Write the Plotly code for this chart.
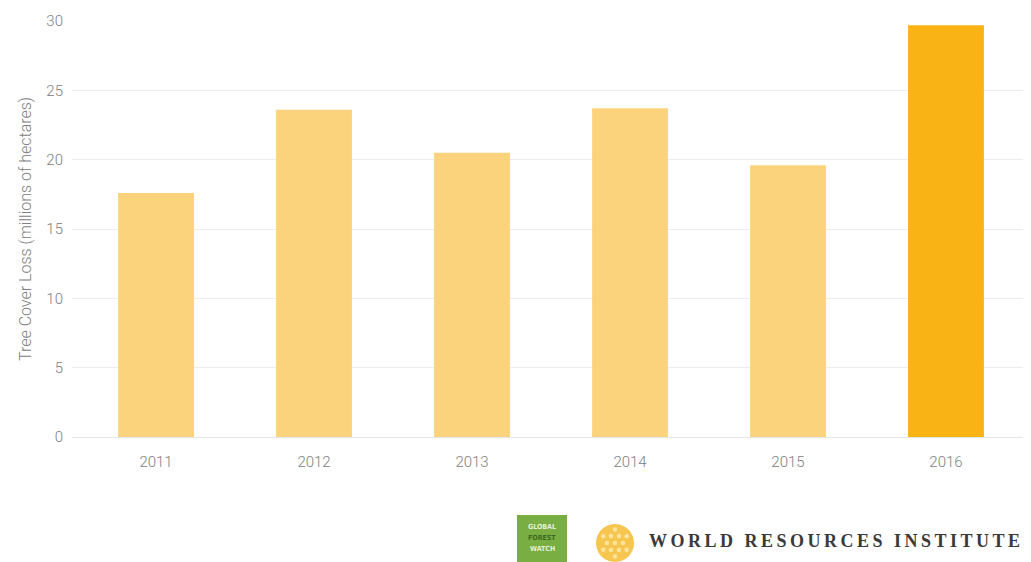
import math
import plotly.graph_objects as go

years = ["2011", "2012", "2013", "2014", "2015", "2016"]
loss = [17.6, 23.6, 20.5, 23.7, 19.6, 29.7]
bar_colors = ["#FCD37D", "#FCD37D", "#FCD37D", "#FCD37D", "#FCD37D", "#F9B315"]
y_ticks = [0, 5, 10, 15, 20, 25, 30]

# page is rendered with an 8px body margin, so the figure is offset by 8px
OFF = 8
PAGE_W, PAGE_H = 1031, 562
W, H = PAGE_W - OFF, PAGE_H - OFF
PL, PT, PR, PB = 72, 21, 1031, 437          # plot area in page pixels
ML, MT = PL - OFF, PT - OFF
MR, MB = PAGE_W - PR, PAGE_H - PB

font_main = "Roboto, sans-serif"

fig = go.Figure()
fig.add_trace(go.Bar(
    x=years, y=loss, marker=dict(color=bar_colors, line=dict(width=0)),
    width=0.48, showlegend=False,
))

def px(x):
    return (x - PL) / (PR - PL)

def py(y):
    return (PB - y) / (PB - PT)

shapes = []
annotations = []

# Global Forest Watch logo (green square)
shapes.append(dict(type="rect", xref="paper", yref="paper",
                   x0=px(517), x1=px(567), y0=py(562), y1=py(515),
                   fillcolor="#78AE42", line=dict(width=0), layer="above"))
for txt, yy, col in [("GLOBAL", 527, "#E6F0D6"), ("FOREST", 538, "#3E6B1E"), ("WATCH", 549, "#E6F0D6")]:
    annotations.append(dict(xref="paper", yref="paper", x=px(542), y=py(yy),
                            text="<b>" + txt + "</b>", showarrow=False,
                            font=dict(size=7, color=col, family="DejaVu Sans Condensed, DejaVu Sans"),
                            xanchor="center", yanchor="middle"))

# WRI flower logo: yellow disc with lighter dots
cx, cy, R = 615, 543, 19
shapes.append(dict(type="circle", xref="paper", yref="paper",
                   x0=px(cx - R), x1=px(cx + R), y0=py(cy + R), y1=py(cy - R),
                   fillcolor="#F7C650", line=dict(width=0), layer="above"))
pts = [(0, 0)]
for k in range(6):
    a = k * math.pi / 3
    pts.append((8 * math.cos(a), 8 * math.sin(a)))
for k in range(6):
    a = math.pi / 6 + k * math.pi / 3
    pts.append((13.5 * math.cos(a), 13.5 * math.sin(a)))
for dx, dy in pts:
    r = 2.3
    shapes.append(dict(type="circle", xref="paper", yref="paper",
                       x0=px(cx + dx - r), x1=px(cx + dx + r),
                       y0=py(cy + dy + r), y1=py(cy + dy - r),
                       fillcolor="#FCE49C", line=dict(width=0), layer="above"))

annotations.append(dict(xref="paper", yref="paper", x=px(647), y=py(541),
                        text='<span style="letter-spacing:3.5px"><b>WORLD RESOURCES INSTITUTE</b></span>',
                        showarrow=False, xanchor="left", yanchor="middle",
                        font=dict(size=18, color="#3a3a3a", family="Liberation Serif, DejaVu Serif, serif")))

fig.update_layout(
    width=W, height=H,
    margin=dict(l=ML, r=MR, t=MT, b=MB, pad=0),
    paper_bgcolor="white", plot_bgcolor="white",
    font=dict(family=font_main, color="#808080", size=15, weight=300),
    bargap=0.52,
    shapes=shapes,
    annotations=annotations,
    xaxis=dict(
        type="category", range=[-0.532, 5.538],
        showgrid=False, zeroline=False, showline=False,
        ticks="", ticklabelstandoff=14,
        tickfont=dict(size=15, color="#808080", family=font_main, weight=300),
    ),
    yaxis=dict(
        range=[0, 30], tickvals=y_ticks, ticktext=[str(v) for v in y_ticks],
        showgrid=True, gridcolor="#ececec", gridwidth=1,
        zeroline=True, zerolinecolor="#e6e6e6", zerolinewidth=1,
        showline=False, ticks="", ticklabelstandoff=8,
        tickfont=dict(size=15, color="#808080", family=font_main, weight=300),
        title=dict(text="Tree Cover Loss (millions of hectares)", standoff=10,
                   font=dict(size=16, color="#808080", family=font_main, weight=300)),
    ),
)

fig.write_html("out.html")
